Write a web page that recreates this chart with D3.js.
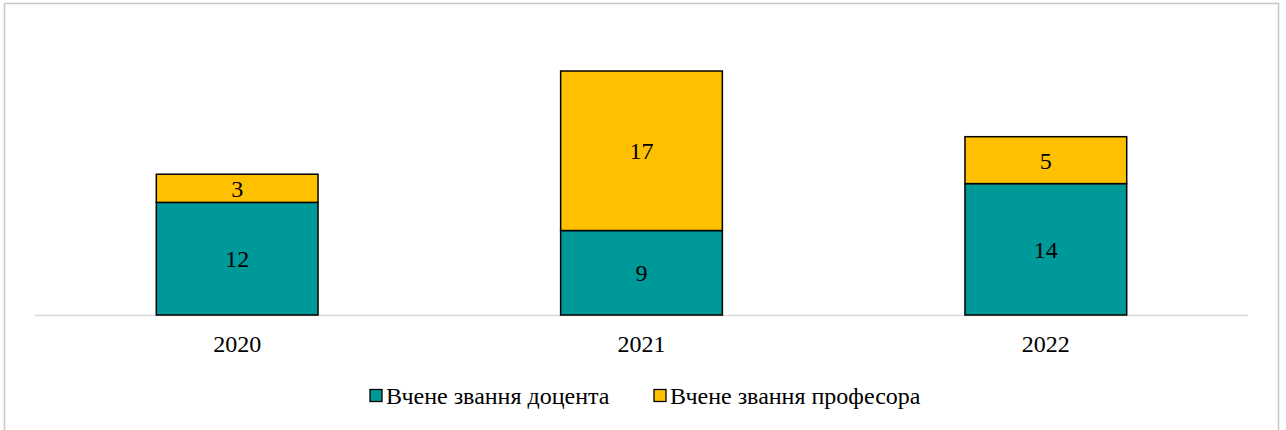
<!DOCTYPE html>
<html>
<head>
<meta charset="utf-8">
<script src="https://cdn.jsdelivr.net/npm/d3@7"></script>
<style>
  html, body { margin: 0; padding: 0; background: #fff; }
  svg { display: block; }
</style>
</head>
<body>
<svg id="chart" width="1286" height="430"></svg>
<script>
// Years and the two stacked series
const years = ["2020", "2021", "2022"];
const docent = [12, 9, 14];
const professor = [3, 17, 5];
const seriesNames = ["Вчене звання доцента", "Вчене звання професора"];
const seriesColors = ["#009999", "#FFC000"];

const FONT = "'Liberation Serif', 'Times New Roman', 'DejaVu Serif', serif";
const FONT_SIZE = 24;

const svg = d3.select("#chart");

// Outer frame of the chart area
svg.append("rect")
  .attr("x", 4.5).attr("y", 3.5)
  .attr("width", 1274).attr("height", 440)
  .attr("fill", "none")
  .attr("stroke", "#c8c8c8")
  .attr("stroke-width", 1.5);

const x = d3.scaleBand()
  .domain(years)
  .range([35, 1248])
  .paddingInner(0.6)
  .paddingOuter(0.3);

const y = d3.scaleLinear()
  .domain([0, 26])
  .range([315, 71]);

const rows = years.map((yr, i) => ({ year: yr, docent: docent[i], professor: professor[i] }));
const stack = d3.stack().keys(["docent", "professor"])(rows);

// Category axis line
svg.append("line")
  .attr("x1", 35).attr("x2", 1248)
  .attr("y1", y(0) + 0.5).attr("y2", y(0) + 0.5)
  .attr("stroke", "#d9d9d9")
  .attr("stroke-width", 1.5);

stack.forEach((layer, si) => {
  const g = svg.append("g");
  g.selectAll("rect")
    .data(layer)
    .join("rect")
    .attr("x", d => x(d.data.year))
    .attr("y", d => y(d[1]))
    .attr("width", x.bandwidth())
    .attr("height", d => y(d[0]) - y(d[1]))
    .attr("fill", seriesColors[si])
    .attr("stroke", "#000")
    .attr("stroke-width", 1.5);

  g.selectAll("text")
    .data(layer)
    .join("text")
    .attr("x", d => x(d.data.year) + x.bandwidth() / 2)
    .attr("y", d => (y(d[0]) + y(d[1])) / 2 + 8.5)
    .attr("text-anchor", "middle")
    .style("font-family", FONT)
    .style("font-size", FONT_SIZE + "px")
    .style("fill", "#000")
    .text(d => d[1] - d[0]);
});

// Year labels below the axis
const xAxis = d3.axisBottom(x).tickSize(0).tickPadding(0);
const ax = svg.append("g")
  .attr("transform", `translate(0, ${y(0)})`)
  .call(xAxis);
ax.select(".domain").remove();
ax.selectAll("text")
  .style("font-family", FONT)
  .style("font-size", FONT_SIZE + "px")
  .style("fill", "#000")
  .attr("dy", null)
  .attr("y", 37);

// Legend
const legendItems = [
  { name: seriesNames[0], color: seriesColors[0], x: 370 },
  { name: seriesNames[1], color: seriesColors[1], x: 654 }
];
const lg = svg.append("g");
legendItems.forEach(item => {
  lg.append("rect")
    .attr("x", item.x).attr("y", 389.5)
    .attr("width", 12).attr("height", 12)
    .attr("fill", item.color)
    .attr("stroke", "#000")
    .attr("stroke-width", 1.3);
  lg.append("text")
    .attr("x", item.x + 16)
    .attr("y", 404)
    .style("font-family", FONT)
    .style("font-size", FONT_SIZE + "px")
    .style("fill", "#000")
    .text(item.name);
});
</script>
</body>
</html>
